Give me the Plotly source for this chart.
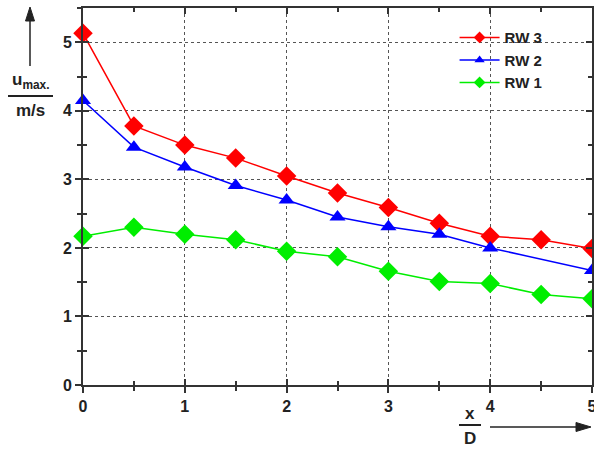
import plotly.graph_objects as go

x_rw3 = [0, 0.5, 1, 1.5, 2, 2.5, 3, 3.5, 4, 4.5, 5]
y_rw3 = [5.13, 3.78, 3.50, 3.31, 3.05, 2.80, 2.59, 2.36, 2.17, 2.12, 1.99]
x_rw2 = [0, 0.5, 1, 1.5, 2, 2.5, 3, 3.5, 4, 5]
y_rw2 = [4.15, 3.47, 3.18, 2.91, 2.70, 2.45, 2.31, 2.20, 2.00, 1.67]
x_rw1 = [0, 0.5, 1, 1.5, 2, 2.5, 3, 3.5, 4, 4.5, 5]
y_rw1 = [2.17, 2.30, 2.20, 2.12, 1.95, 1.87, 1.66, 1.51, 1.48, 1.32, 1.26]
names = ["RW 3", "RW 2", "RW 1"]
x_ticks = [0, 1, 2, 3, 4, 5]
y_ticks = [0, 1, 2, 3, 4, 5]

FONT = "Liberation Sans, Arial, sans-serif"

series = [
    (x_rw3, y_rw3, names[0], "#ff0000", "diamond", 15, 9),
    (x_rw2, y_rw2, names[1], "#0000ff", "triangle-up", 14, 9),
    (x_rw1, y_rw1, names[2], "#00ee00", "diamond", 15, 9),
]

fig = go.Figure()
for xs, ys, nm, col, sym, sz, lsz in series:
    fig.add_trace(go.Scatter(x=xs, y=ys, name=nm, mode="lines+markers", cliponaxis=False,
                             showlegend=False, legendgroup=nm,
                             line=dict(color=col, width=1.5),
                             marker=dict(symbol=sym, size=sz, color=col)))
# legend entries with smaller symbols (no data drawn)
for xs, ys, nm, col, sym, sz, lsz in series:
    fig.add_trace(go.Scatter(x=[None], y=[None], name=nm, mode="lines+markers",
                             legendgroup=nm, showlegend=True,
                             line=dict(color=col, width=1.5),
                             marker=dict(symbol=sym, size=lsz, color=col)))
# invisible trace to activate overlay axes (inside ticks)
fig.add_trace(go.Scatter(x=[0], y=[0], xaxis="x2", yaxis="y2", mode="markers",
                         marker=dict(opacity=0), showlegend=False, hoverinfo="skip"))

tickfont = dict(family=FONT, size=16, color="#222222", weight="bold")
axis_common = dict(showline=True, linecolor="#333333", linewidth=2, zeroline=False,
                   tickcolor="#333333", tickwidth=2, ticklen=6, automargin=False,
                   tickfont=tickfont, ticklabeloverflow="allow")

fig.update_layout(
    width=594, height=450,
    margin=dict(l=83, r=2, t=8, b=65, autoexpand=False),
    plot_bgcolor="white", paper_bgcolor="white",
    showlegend=True,
    legend=dict(x=0.73, y=0.965, xanchor="left", yanchor="top", itemsizing="trace",
                bgcolor="rgba(0,0,0,0)",
                font=dict(family=FONT, size=15, color="#222222", weight="bold"),
                itemwidth=40, tracegroupgap=0),
    xaxis=dict(range=[0, 5], tickvals=x_ticks, ticks="outside", mirror=True,
               showgrid=True, gridcolor="#555555", griddash="dot", gridwidth=1,
               minor=dict(dtick=0.5, ticks="outside", ticklen=4, tickcolor="#333333", tickwidth=2, showgrid=False),
               **axis_common),
    yaxis=dict(range=[0, 5.5], tickvals=y_ticks, ticks="outside", mirror=True,
               showgrid=True, gridcolor="#555555", griddash="dot", gridwidth=1,
               minor=dict(dtick=0.5, ticks="outside", ticklen=4, tickcolor="#333333", tickwidth=2, showgrid=False),
               **axis_common),
    xaxis2=dict(overlaying="x", range=[0, 5], tickvals=x_ticks, ticks="inside", automargin=False,
                mirror="ticks", showticklabels=False, showgrid=False, showline=False, zeroline=False,
                tickcolor="#333333", tickwidth=2, ticklen=6,
                minor=dict(dtick=0.5, ticks="inside", ticklen=4, tickcolor="#333333", tickwidth=2)),
    yaxis2=dict(overlaying="y", range=[0, 5.5], tickvals=y_ticks, ticks="inside", automargin=False,
                mirror="ticks", showticklabels=False, showgrid=False, showline=False, zeroline=False,
                tickcolor="#333333", tickwidth=2, ticklen=6,
                minor=dict(dtick=0.5, ticks="inside", ticklen=4, tickcolor="#333333", tickwidth=2)),
)

def px(xp):
    return (xp - 83) / 509

def py(yp):
    return (385 - yp) / 377

tf = dict(family=FONT, size=17, color="#222222")
lc = "#222222"
# y-axis label: arrow, u_max. / m/s
fig.add_shape(type="line", xref="paper", yref="paper", x0=px(30), x1=px(30), y0=py(66), y1=py(18),
              line=dict(color=lc, width=1.5))
fig.add_shape(type="path", xref="paper", yref="paper",
              path=f"M {px(30)},{py(7)} L {px(25.5)},{py(21)} L {px(34.5)},{py(21)} Z",
              fillcolor=lc, line=dict(color=lc, width=1))
fig.add_annotation(xref="paper", yref="paper", x=px(31), y=py(81), text="<b>u</b><sub><b>max.</b></sub>",
                   showarrow=False, font=tf, xanchor="center", yanchor="middle")
fig.add_shape(type="line", xref="paper", yref="paper", x0=px(8), x1=px(53), y0=py(96), y1=py(96),
              line=dict(color=lc, width=2))
fig.add_annotation(xref="paper", yref="paper", x=px(30), y=py(110), text="<b>m/s</b>",
                   showarrow=False, font=tf, xanchor="center", yanchor="middle")
# x-axis label: x / D, arrow
fig.add_annotation(xref="paper", yref="paper", x=px(470), y=py(413), text="<b>x</b>",
                   showarrow=False, font=tf, xanchor="center", yanchor="middle")
fig.add_shape(type="line", xref="paper", yref="paper", x0=px(459), x1=px(481), y0=py(425), y1=py(425),
              line=dict(color=lc, width=2))
fig.add_annotation(xref="paper", yref="paper", x=px(470), y=py(438), text="<b>D</b>",
                   showarrow=False, font=tf, xanchor="center", yanchor="middle")
fig.add_shape(type="line", xref="paper", yref="paper", x0=px(490), x1=px(578), y0=py(427), y1=py(427),
              line=dict(color=lc, width=1.5))
fig.add_shape(type="path", xref="paper", yref="paper",
              path=f"M {px(591)},{py(427)} L {px(576)},{py(422.5)} L {px(576)},{py(431.5)} Z",
              fillcolor=lc, line=dict(color=lc, width=1))

fig.write_html(
    "out.html",
    config={"displayModeBar": False},
    post_script="document.body.style.margin='0';document.body.style.overflow='hidden';"
                "Plotly.Plots.resize(document.getElementById('{plot_id}'));",
)
